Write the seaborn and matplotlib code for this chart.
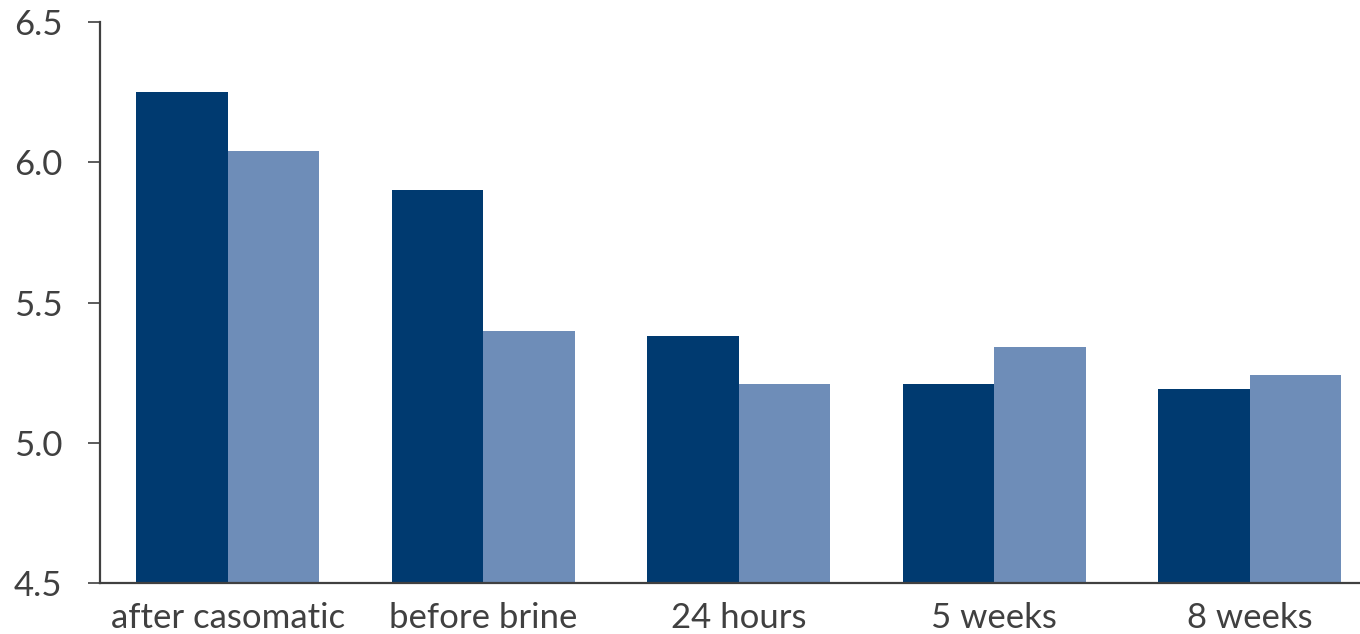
import matplotlib
matplotlib.use("Agg")
import matplotlib.pyplot as plt
import seaborn as sns
import pandas as pd

# pH measurements at each production stage, two cheese batches
stages = ["after casomatic", "before brine", "24 hours", "5 weeks", "8 weeks"]
batch_a = [6.25, 5.90, 5.38, 5.21, 5.19]
batch_b = [6.04, 5.40, 5.21, 5.34, 5.24]
yticks = [4.5, 5.0, 5.5, 6.0, 6.5]

df = pd.DataFrame({
    "stage": stages * 2,
    "pH": batch_a + batch_b,
    "batch": ["A"] * len(stages) + ["B"] * len(stages),
})

sns.set_theme(style="white")
plt.rcParams["font.family"] = ["Lato", "DejaVu Sans"]

W, H = 1360, 634
fig = plt.figure(figsize=(W / 100, H / 100), dpi=100)
ax = fig.add_axes([100 / W, 51 / H, 1 - 100 / W, (583 - 22) / H])

sns.barplot(data=df, x="stage", y="pH", hue="batch", order=stages,
            palette=["#003A70", "#6E8DB8"], saturation=1, width=0.716,
            linewidth=0, legend=False, ax=ax)

ax.set_ylim(4.5, 6.5)
ax.set_yticks(yticks)
ax.set_yticklabels([f"{v:.1f}" for v in yticks])
ax.set_xlim(-0.5, -0.5 + (W - 100) / 255.5)
ax.set_xlabel("")
ax.set_ylabel("")

for side in ["top", "right"]:
    ax.spines[side].set_visible(False)
for side in ["left", "bottom"]:
    ax.spines[side].set_color("#404040")
    ax.spines[side].set_linewidth(1.6)

ax.tick_params(axis="y", direction="out", length=9, width=1.2, color="#404040",
               pad=18, labelsize=25, labelcolor="#404040", left=True)
ax.tick_params(axis="x", length=0, pad=14, labelsize=25, labelcolor="#404040")

fig.savefig("out.png", dpi=100)
